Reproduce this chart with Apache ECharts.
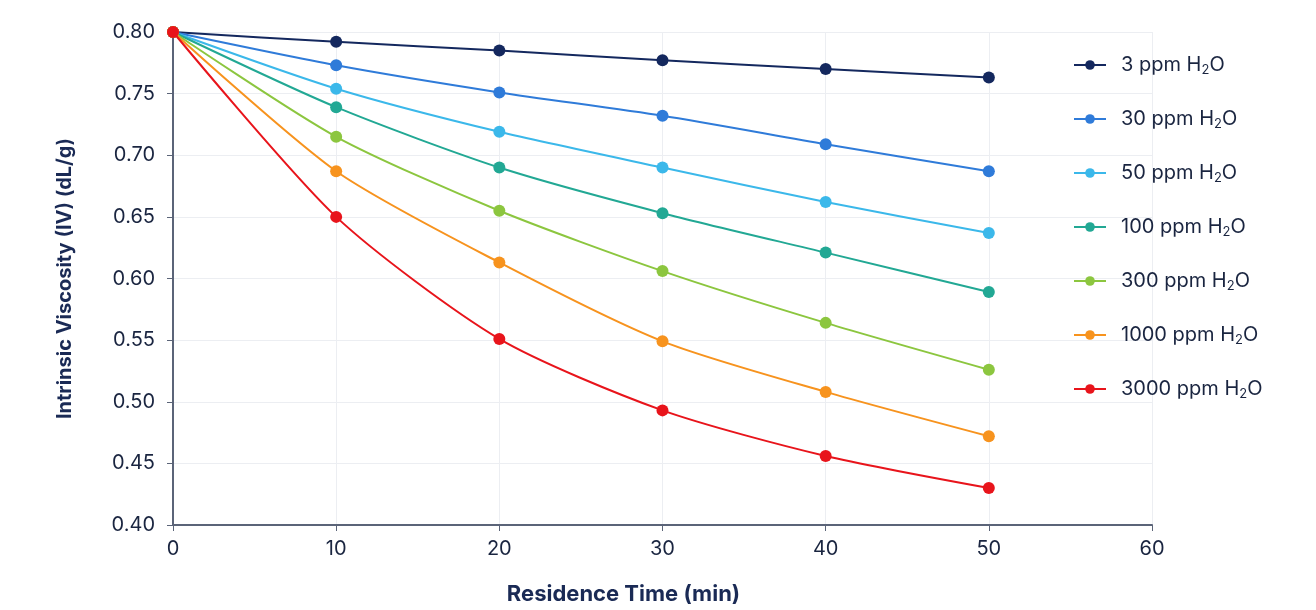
<!DOCTYPE html>
<html>
<head>
<meta charset="utf-8">
<script src="https://cdn.jsdelivr.net/npm/echarts@6/dist/echarts.min.js"></script>
<style>
  html, body { margin: 0; padding: 0; background: #fff; }
  #main { width: 1316px; height: 610px; }
</style>
</head>
<body>
<div id="main"></div>
<script>
var times = [0, 10, 20, 30, 40, 50];
var seriesNames = ['3 ppm H2O', '30 ppm H2O', '50 ppm H2O', '100 ppm H2O',
                   '300 ppm H2O', '1000 ppm H2O', '3000 ppm H2O'];
var iv3    = [0.800, 0.792, 0.785, 0.777, 0.770, 0.763];
var iv30   = [0.800, 0.773, 0.751, 0.732, 0.709, 0.687];
var iv50   = [0.800, 0.754, 0.719, 0.690, 0.662, 0.637];
var iv100  = [0.800, 0.739, 0.690, 0.653, 0.621, 0.589];
var iv300  = [0.800, 0.715, 0.655, 0.606, 0.564, 0.526];
var iv1000 = [0.800, 0.687, 0.613, 0.549, 0.508, 0.472];
var iv3000 = [0.800, 0.650, 0.551, 0.493, 0.456, 0.430];
var colors = ['#14285e', '#2f7bd9', '#3bb8ea', '#22a894', '#8cc63f', '#f7931e', '#e8141b'];

var allValues = [iv3, iv30, iv50, iv100, iv300, iv1000, iv3000];

var myChart = echarts.init(document.getElementById('main'));

var series = [];
for (var i = allValues.length - 1; i >= 0; i--) {
    series.push({
        name: seriesNames[i],
        type: 'line',
        smooth: 0.25,
        symbol: 'circle',
        symbolSize: 12,
        z: 10 + i,
        lineStyle: { width: 2, color: colors[i] },
        itemStyle: { color: colors[i] },
        data: times.map(function (t, k) { return [t, allValues[i][k]]; })
    });
}

var option = {
    animation: false,
    grid: { left: 173, right: 164, top: 32, bottom: 85 },
    legend: {
        orient: 'vertical',
        left: 1068,
        top: 50,
        itemGap: 32,
        itemWidth: 32,
        itemHeight: 12,
        data: seriesNames,
        formatter: function (name) {
            return name.replace('H2O', 'H{sub|2}O');
        },
        textStyle: {
            color: '#1a2540',
            fontSize: 20,
            fontFamily: 'Inter',
            padding: [0, 0, 0, 10],
            rich: {
                sub: { fontSize: 13, verticalAlign: 'bottom', padding: [11, 0, 0, 0], color: '#1a2540', fontFamily: 'Inter' }
            }
        }
    },
    xAxis: {
        type: 'value',
        min: 0, max: 60, interval: 10,
        name: 'Residence Time (min)',
        nameLocation: 'middle',
        nameGap: 58,
        nameTextStyle: { fontSize: 22, fontWeight: 'bold', color: '#1a2a55', fontFamily: 'Inter', padding: [0, 78, 0, 0] },
        axisLine: { lineStyle: { color: '#5b6478', width: 2 } },
        axisTick: { show: true, length: 6, lineStyle: { color: '#5b6478' } },
        axisLabel: { fontSize: 20, color: '#1a2540', margin: 14, fontFamily: 'Inter' },
        splitLine: { show: true, lineStyle: { color: '#eceef2' } }
    },
    yAxis: {
        type: 'value',
        min: 0.40, max: 0.80, interval: 0.05,
        name: 'Intrinsic Viscosity (IV) (dL/g)',
        nameLocation: 'middle',
        nameGap: 98,
        nameTextStyle: { fontSize: 20, fontWeight: 'bold', color: '#1a2a55', fontFamily: 'Inter' },
        axisLine: { show: true, lineStyle: { color: '#5b6478', width: 2 } },
        axisTick: { show: true, length: 6, lineStyle: { color: '#5b6478' } },
        axisLabel: {
            fontSize: 20, color: '#1a2540', margin: 18, fontFamily: 'Inter',
            formatter: function (v) { return v.toFixed(2); }
        },
        splitLine: { show: true, lineStyle: { color: '#eceef2' } }
    },
    series: series
};
myChart.setOption(option);
</script>
</body>
</html>
